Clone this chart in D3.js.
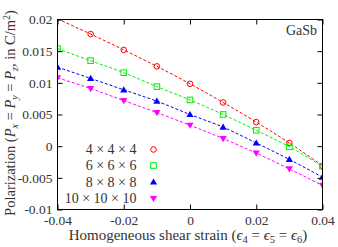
<!DOCTYPE html>
<html><head><meta charset="utf-8">
<script src="https://cdn.jsdelivr.net/npm/d3@7"></script>
<style>
html,body{margin:0;padding:0;background:#fff;}
svg text{font-family:"Liberation Serif","DejaVu Serif",serif;fill:#333;}
</style></head>
<body><svg id="c" width="338" height="247"></svg>
<script>
const strains = [-0.04,-0.03,-0.02,-0.01,0,0.01,0.02,0.03,0.04];
const p4  = [0.0201,0.0177,0.0152,0.0126,0.00985,0.0069,0.0038,0.0005,-0.0031];
const p6  = [0.0154,0.0135,0.0116,0.0094,0.0073,0.0050,0.0025,-0.0001,-0.0032];
const p8  = [0.01247,0.0107,0.0089,0.0071,0.0050,0.0030,0.0005,-0.0021,-0.0049];
const p10 = [0.0108,0.0091,0.0072,0.0053,0.0033,0.0012,-0.0011,-0.0036,-0.0062];
const seriesNames = ["4 \u00d7 4 \u00d7 4","6 \u00d7 6 \u00d7 6","8 \u00d7 8 \u00d7 8","10 \u00d7 10 \u00d7 10"];
const xTicks = [-0.04,-0.02,0,0.02,0.04];
const xTickLabels = ["-0.04","-0.02","0","0.02","0.04"];
const yTicks = [-0.01,-0.005,0,0.005,0.01,0.015,0.02];
const yTickLabels = ["-0.01","-0.005","0","0.005","0.01","0.015","0.02"];

const colors = ["#ff0000","#00ee00","#0000ff","#ff00ff"];
const shapes = ["circle","square","triUp","triDown"];
const allSeries = [p4,p6,p8,p10];

const svg = d3.select("#c");
const L=57.5,R=322.5,T=19.5,B=209.5;
const x = d3.scaleLinear().domain([-0.04,0.04]).range([L,R]);
const y = d3.scaleLinear().domain([-0.01,0.02]).range([B,T]);

svg.append("defs").append("clipPath").attr("id","clip")
  .append("rect").attr("x",L).attr("y",T).attr("width",R-L).attr("height",B-T);

function marker(g, shape, color, cx, cy){
  if(shape==="circle") g.append("circle").attr("cx",cx).attr("cy",cy).attr("r",2.8)
     .attr("fill","none").attr("stroke",color).attr("stroke-width",1);
  else if(shape==="square") g.append("rect").attr("x",cx-2.8).attr("y",cy-2.8).attr("width",5.6).attr("height",5.6)
     .attr("fill","none").attr("stroke",color).attr("stroke-width",1);
  else if(shape==="triUp") g.append("path").attr("d",`M${cx-3.6},${cy+2.6}L${cx+3.6},${cy+2.6}L${cx},${cy-3.6}Z`).attr("fill",color);
  else g.append("path").attr("d",`M${cx-3.6},${cy-2.6}L${cx+3.6},${cy-2.6}L${cx},${cy+3.6}Z`).attr("fill",color);
}

const plot = svg.append("g").attr("clip-path","url(#clip)");
const line = d3.line().x((d,i)=>x(strains[i])).y(d=>y(d)).curve(d3.curveMonotoneX);
allSeries.forEach((s,k)=>{
  plot.append("path").attr("d",line(s)).attr("fill","none").attr("stroke",colors[k])
    .attr("stroke-width",1).attr("stroke-dasharray","3,2");
});
allSeries.forEach((s,k)=>{
  s.forEach((v,i)=>{ if(v<=0.02) marker(plot,shapes[k],colors[k],x(strains[i]),y(v)); });
});

// frame
svg.append("rect").attr("x",L).attr("y",T).attr("width",R-L).attr("height",B-T)
  .attr("fill","none").attr("stroke","#000").attr("stroke-width",1);

// axes via d3
const tl=5;
const xb = svg.append("g").attr("transform",`translate(0,${B})`)
  .call(d3.axisBottom(x).tickValues(xTicks).tickFormat((d,i)=>xTickLabels[i]).tickSize(-tl).tickPadding(6));
const xt = svg.append("g").attr("transform",`translate(0,${T})`)
  .call(d3.axisTop(x).tickValues(xTicks).tickFormat("").tickSize(-tl));
const yl = svg.append("g").attr("transform",`translate(${L},0)`)
  .call(d3.axisLeft(y).tickValues(yTicks).tickFormat((d,i)=>yTickLabels[i]).tickSize(-tl).tickPadding(5));
const yr = svg.append("g").attr("transform",`translate(${R},0)`)
  .call(d3.axisRight(y).tickValues(yTicks).tickFormat("").tickSize(-tl));
[xb,xt,yl,yr].forEach(g=>{
  g.select(".domain").remove();
  g.selectAll("line").attr("stroke","#000");
  g.selectAll("text").attr("font-family",'"Liberation Serif","DejaVu Serif",serif').attr("font-size",13.5).attr("fill","#333");
});
yl.selectAll("text").attr("dy","0.32em");

// legend
const leg = svg.append("g");
const legY = [149.5,165.5,182,198.5];
seriesNames.forEach((n,k)=>{
  leg.append("text").attr("x",136.5).attr("y",legY[k]).attr("dy","0.33em").attr("text-anchor","end")
    .attr("font-size",14).text(n);
  marker(leg,shapes[k],colors[k],153.5,legY[k]);
});

// GaSb
svg.append("text").attr("x",317).attr("y",35).attr("text-anchor","end").attr("font-size",14).text("GaSb");

// x label
const xlab = svg.append("text").attr("x",188).attr("y",240).attr("text-anchor","middle").attr("font-size",15);
xlab.append("tspan").text("Homogeneous shear strain (");
[["4"," = "],["5"," = "],["6",")"]].forEach(([s,after])=>{
  xlab.append("tspan").attr("font-style","italic").text("\u03f5");
  xlab.append("tspan").attr("font-size",10.5).attr("dy",3).text(s);
  xlab.append("tspan").attr("dy",-3).text(after);
});

// y label
const ylab = svg.append("text").attr("transform","translate(14.5,113) rotate(-90)").attr("text-anchor","middle").attr("font-size",14.5);
ylab.append("tspan").text("Polarization (");
[["x"," = "],["y"," = "],["z",", in C/m"]].forEach(([s,after])=>{
  ylab.append("tspan").attr("font-style","italic").text("P");
  ylab.append("tspan").attr("font-style","italic").attr("font-size",10).attr("dy",3).text(s);
  ylab.append("tspan").attr("dy",-3).text(after);
});
ylab.append("tspan").attr("font-size",10).attr("dy",-5).text("2");
ylab.append("tspan").attr("dy",5).text(")");
</script></body></html>
